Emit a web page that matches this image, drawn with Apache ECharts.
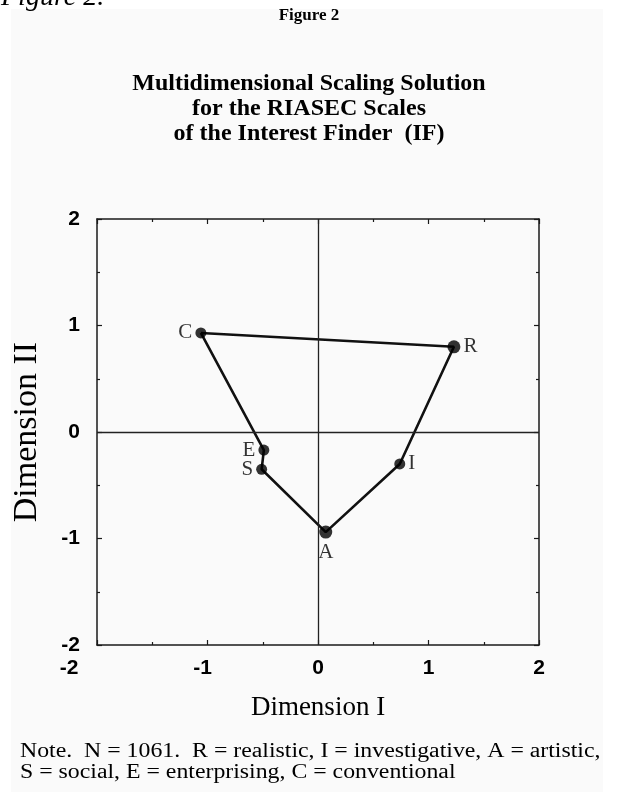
<!DOCTYPE html>
<html>
<head>
<meta charset="utf-8">
<script src="https://cdn.jsdelivr.net/npm/echarts@6/dist/echarts.min.js"></script>
<style>
html,body{margin:0;padding:0;background:#ffffff;}
#chart{width:618px;height:792px;}
</style>
</head>
<body>
<div id="chart"></div>
<script>
// Scale labels and MDS coordinates (Dimension I, Dimension II)
var scaleLabels = ['C', 'R', 'I', 'A', 'S', 'E'];
var dimI  = [-1.06, 1.23, 0.74, 0.07, -0.51, -0.49];
var dimII = [0.93, 0.80, -0.30, -0.94, -0.35, -0.17];
var labelSide = ['left', 'right', 'right', 'bottom', 'left', 'left'];
var xTicks = [-2, -1, 0, 1, 2];
var yTicks = [-2, -1, 0, 1, 2];

var pts = scaleLabels.map(function (n, i) {
  return {
    value: [dimI[i], dimII[i]],
    name: n,
    symbolSize: (n === 'A' || n === 'R') ? 13 : 11,
    label: { position: labelSide[i] }
  };
});
// closed hexagon path C-R-I-A-S-E-C
var path = pts.map(function (p) { return p.value; });
path.push(pts[0].value);

var serif = "'Liberation Serif', 'DejaVu Serif', serif";
var sans = "'Liberation Sans', Arial, sans-serif";
var axisCol = '#1a1a1a';
var tickFont = 21;

var chart = echarts.init(document.getElementById('chart'), null, {renderer: 'canvas'});
chart.setOption({
  backgroundColor: '#ffffff',
  animation: false,
  graphic: [
    { type: 'rect', shape: {x: 11, y: 9, width: 592, height: 790}, style: {fill: '#fafafa'}, z: -10 },
    { type: 'text', left: 1, top: -16, style: { text: 'Figure 2.', font: 'italic 28px ' + serif, fill: '#000' } },
    { type: 'text', left: 'center', top: 7, style: { text: 'Figure 2', font: 'bold 17px ' + serif, fill: '#000' } },
    { type: 'text', left: 'center', top: 71, style: {
        text: 'Multidimensional Scaling Solution\nfor the RIASEC Scales\nof the Interest Finder  (IF)',
        font: 'bold 24px ' + serif, fill: '#000', textAlign: 'center', lineHeight: 25 } },
    { type: 'text', x: 20, y: 741, scaleX: 1.19, style: {
        text: 'Note.  N = 1061.  R = realistic, I = investigative, A = artistic,\nS = social, E = enterprising, C = conventional',
        font: '20px ' + serif, fill: '#000', lineHeight: 21 } }
  ],
  grid: { left: 97, right: 79, top: 219, bottom: 147, containLabel: false },
  xAxis: [{
    type: 'value', min: -2, max: 2, interval: 1,
    name: 'Dimension I', nameLocation: 'middle', nameGap: 49,
    nameTextStyle: { fontFamily: serif, fontSize: 27, color: '#000' },
    axisLine: { show: true, onZero: false, lineStyle: { color: axisCol, width: 1.5 } },
    axisTick: { show: true, inside: true, length: 5, lineStyle: { color: axisCol, width: 1.2 } },
    minorTick: { show: true, splitNumber: 2, length: 3, lineStyle: { color: axisCol, width: 1.2 } },
    splitLine: { show: false },
    axisLabel: {
      margin: 13, color: '#000', fontFamily: sans, fontWeight: 'bold', fontSize: tickFont,
      formatter: function (v) {
        if (v === -2) return '{a|' + v + '}';
        if (v === -1) return '{b|' + v + '}';
        return '{c|' + v + '}';
      },
      rich: {
        a: { fontFamily: sans, fontWeight: 'bold', fontSize: tickFont, color: '#000', padding: [0, 56, 0, 0] },
        b: { fontFamily: sans, fontWeight: 'bold', fontSize: tickFont, color: '#000', padding: [0, 10, 0, 0] },
        c: { fontFamily: sans, fontWeight: 'bold', fontSize: tickFont, color: '#000' }
      }
    }
  }, {
    type: 'value', min: -2, max: 2, interval: 1, position: 'top',
    axisLine: { show: true, onZero: false, lineStyle: { color: axisCol, width: 1.5 } },
    axisTick: { show: true, inside: true, length: 5, lineStyle: { color: axisCol, width: 1.2 } },
    minorTick: { show: true, splitNumber: 2, length: 3, lineStyle: { color: axisCol, width: 1.2 } },
    splitLine: { show: false }, axisLabel: { show: false }
  }],
  yAxis: [{
    type: 'value', min: -2, max: 2, interval: 1,
    name: 'Dimension II', nameLocation: 'middle', nameGap: 53, nameRotate: 90,
    nameTextStyle: { fontFamily: serif, fontSize: 34, color: '#000' },
    axisLine: { show: true, onZero: false, lineStyle: { color: axisCol, width: 1.5 } },
    axisTick: { show: true, inside: true, length: 5, lineStyle: { color: axisCol, width: 1.2 } },
    minorTick: { show: true, splitNumber: 2, length: 3, lineStyle: { color: axisCol, width: 1.2 } },
    splitLine: { show: false },
    axisLabel: {
      margin: 17, color: '#000', fontFamily: sans, fontWeight: 'bold', fontSize: tickFont,
      formatter: function (v) { return '{c|' + v + '}'; },
      rich: { c: { fontFamily: sans, fontWeight: 'bold', fontSize: tickFont, color: '#000' } }
    }
  }, {
    type: 'value', min: -2, max: 2, interval: 1, position: 'right',
    axisLine: { show: true, onZero: false, lineStyle: { color: axisCol, width: 1.5 } },
    axisTick: { show: true, inside: true, length: 5, lineStyle: { color: axisCol, width: 1.2 } },
    minorTick: { show: true, splitNumber: 2, length: 3, lineStyle: { color: axisCol, width: 1.2 } },
    splitLine: { show: false }, axisLabel: { show: false }
  }],
  series: [{
    type: 'line',
    data: path,
    symbol: 'none',
    lineStyle: { color: '#111', width: 2.6 },
    z: 3,
    markLine: {
      silent: true, symbol: ['none', 'none'], label: { show: false },
      lineStyle: { color: '#222', width: 1.3, type: 'solid' },
      data: [{ xAxis: 0 }, { yAxis: 0 }]
    }
  }, {
    type: 'scatter',
    data: pts,
    symbol: 'circle',
    itemStyle: { color: '#000' },
    z: 4,
    label: {
      show: true, formatter: '{b}', color: '#000',
      fontFamily: serif, fontSize: 21, distance: 3
    }
  }]
});
</script>
</body>
</html>
